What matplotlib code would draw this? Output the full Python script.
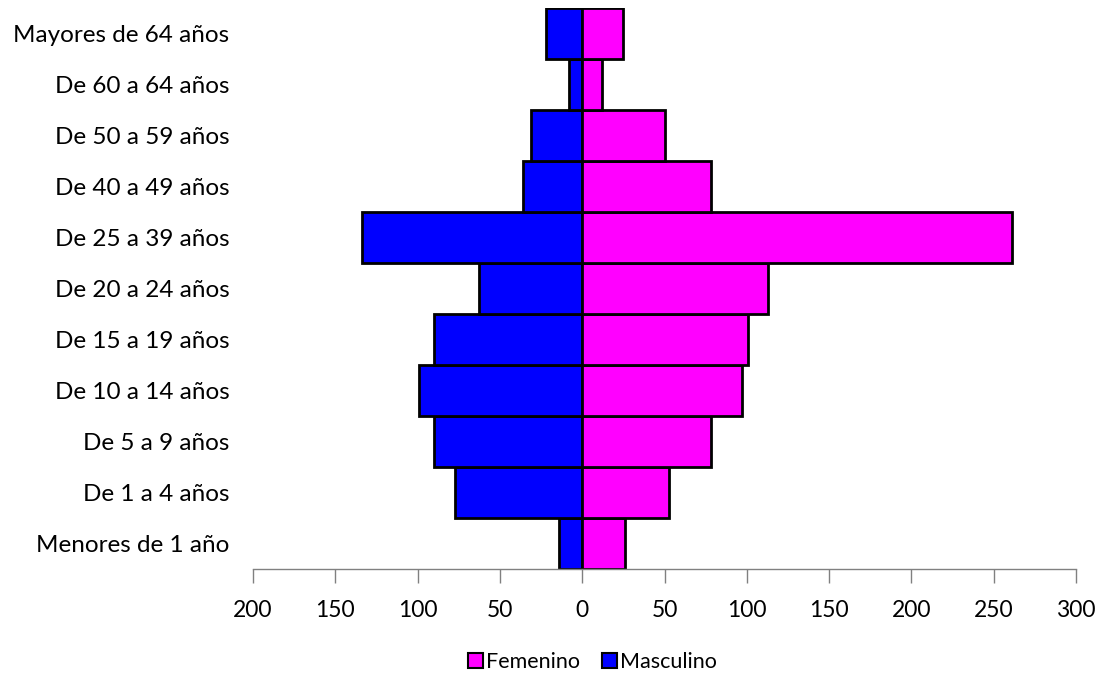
import matplotlib
matplotlib.use("Agg")
import matplotlib.pyplot as plt
from matplotlib.patches import Patch

categories = ["Menores de 1 año", "De 1 a 4 años", "De 5 a 9 años", "De 10 a 14 años",
              "De 15 a 19 años", "De 20 a 24 años", "De 25 a 39 años", "De 40 a 49 años",
              "De 50 a 59 años", "De 60 a 64 años", "Mayores de 64 años"]
masculino = [14, 77, 90, 99, 90, 63, 134, 36, 31, 8, 22]
femenino = [26, 53, 78, 97, 101, 113, 261, 78, 50, 12, 25]
xticks = [-200, -150, -100, -50, 0, 50, 100, 150, 200, 250, 300]
xticklabels = ["200", "150", "100", "50", "0", "50", "100", "150", "200", "250", "300"]

plt.rcParams['font.family'] = ['Lato', 'DejaVu Sans']
FS = 16.5

fig = plt.figure(figsize=(11.01, 6.73), dpi=100)
ax = fig.add_axes([0.2298, 0.1545, 0.9773 - 0.2298, 0.988 - 0.1545])

y = list(range(len(categories)))
ax.barh(y, [-v for v in masculino], height=1.0, color="#0000FF", edgecolor="black", linewidth=2)
ax.barh(y, femenino, height=1.0, color="#FF00FF", edgecolor="black", linewidth=2)

ax.set_xlim(-200, 300)
ax.set_ylim(-0.5, len(categories) - 0.5)
ax.set_xticks(xticks)
ax.set_xticklabels(xticklabels, fontsize=FS)
ax.set_yticks(y)
ax.set_yticklabels(categories, fontsize=17.5)
ax.tick_params(axis='y', length=0, pad=17)
ax.tick_params(axis='x', length=10, width=1, color="#808080", pad=12, direction='out')
for s in ["top", "right", "left"]:
    ax.spines[s].set_visible(False)
ax.spines["bottom"].set_color("#808080")
ax.spines["bottom"].set_linewidth(1)

handles = [Patch(facecolor="#FF00FF", edgecolor="black", linewidth=1.5, label="Femenino"),
           Patch(facecolor="#0000FF", edgecolor="black", linewidth=1.5, label="Masculino")]
fig.legend(handles=handles, loc="center", bbox_to_anchor=(0.538, 0.0165), ncol=2,
           frameon=False, fontsize=15.5, handlelength=0.7, handleheight=0.7,
           handletextpad=0.15, columnspacing=1.0)

fig.savefig("out.png", dpi=100)
